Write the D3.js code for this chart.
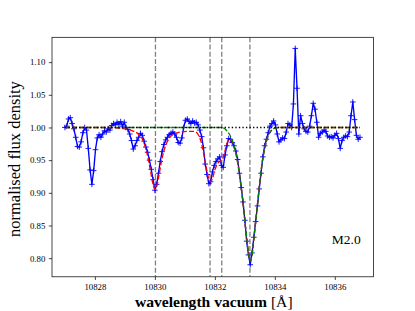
<!DOCTYPE html>
<html>
<head>
<meta charset="utf-8">
<script src="https://cdn.jsdelivr.net/npm/d3@7"></script>
<style>
  body { margin: 0; background: #fff; }
  svg { display: block; }
</style>
</head>
<body>
<svg id="chart" width="415" height="311"></svg>
<script>
// observed spectrum
const wavelength = [
  10827.00, 10827.06, 10827.12, 10827.18, 10827.24, 10827.30, 10827.36, 10827.42, 10827.48, 10827.54,
  10827.60, 10827.66, 10827.72, 10827.78, 10827.84, 10827.90, 10827.96, 10828.02, 10828.08, 10828.14,
  10828.20, 10828.26, 10828.32, 10828.38, 10828.44, 10828.50, 10828.56, 10828.62, 10828.68, 10828.74,
  10828.80, 10828.86, 10828.92, 10828.98, 10829.04, 10829.10, 10829.16, 10829.22, 10829.28, 10829.34,
  10829.40, 10829.46, 10829.52, 10829.58, 10829.64, 10829.70, 10829.76, 10829.82, 10829.88, 10829.94,
  10830.00, 10830.06, 10830.12, 10830.18, 10830.24, 10830.30, 10830.36, 10830.42, 10830.48, 10830.54,
  10830.60, 10830.66, 10830.72, 10830.78, 10830.84, 10830.90, 10830.96, 10831.02, 10831.08, 10831.14,
  10831.20, 10831.26, 10831.32, 10831.38, 10831.44, 10831.50, 10831.56, 10831.62, 10831.68, 10831.74,
  10831.80, 10831.86, 10831.92, 10831.98, 10832.04, 10832.10, 10832.16, 10832.22, 10832.28, 10832.34,
  10832.40, 10832.46, 10832.52, 10832.58, 10832.64, 10832.70, 10832.76, 10832.82, 10832.88, 10832.94,
  10833.00, 10833.06, 10833.12, 10833.18, 10833.24, 10833.30, 10833.36, 10833.42, 10833.48, 10833.54,
  10833.60, 10833.66, 10833.72, 10833.78, 10833.84, 10833.90, 10833.96, 10834.02, 10834.08, 10834.14,
  10834.20, 10834.26, 10834.32, 10834.38, 10834.44, 10834.50, 10834.56, 10834.62, 10834.68, 10834.74,
  10834.80, 10834.86, 10834.92, 10834.98, 10835.04, 10835.10, 10835.16, 10835.22, 10835.28, 10835.34,
  10835.40, 10835.46, 10835.52, 10835.58, 10835.64, 10835.70, 10835.76, 10835.82, 10835.88, 10835.94,
  10836.00, 10836.06, 10836.12, 10836.18, 10836.24, 10836.30, 10836.36, 10836.42, 10836.48, 10836.54,
  10836.60, 10836.66, 10836.72, 10836.78, 10836.84
]
const flux = [
  1.000, 1.002, 1.013, 1.015, 1.006, 0.998, 0.985, 0.971, 0.970, 0.978,
  0.992, 1.000, 0.996, 0.968, 0.935, 0.913, 0.934, 0.966, 0.984, 0.989,
  0.985, 0.990, 0.995, 0.993, 0.998, 0.996, 1.003, 1.006, 1.004, 1.008,
  1.005, 1.009, 1.002, 1.008, 1.000, 0.997, 0.990, 0.980, 0.967, 0.972,
  0.980, 0.985, 0.991, 0.988, 0.979, 0.970, 0.962, 0.950, 0.936, 0.920,
  0.904, 0.913, 0.930, 0.948, 0.963, 0.974, 0.981, 0.985, 0.989, 0.991,
  0.993, 0.990, 0.985, 0.977, 0.976, 0.984, 1.000, 1.011, 1.013, 1.009,
  1.006, 1.010, 1.007, 1.008, 1.004, 0.996, 0.986, 0.969, 0.944, 0.928,
  0.914, 0.917, 0.932, 0.942, 0.948, 0.952, 0.955, 0.942, 0.939, 0.958,
  0.972, 0.983, 0.982, 0.977, 0.972, 0.964, 0.951, 0.930, 0.908, 0.886,
  0.858, 0.826, 0.805, 0.790, 0.808, 0.832, 0.856, 0.880, 0.906, 0.930,
  0.955, 0.972, 0.982, 0.992, 1.002, 1.006, 1.010, 1.004, 0.990, 0.978,
  0.981, 0.984, 0.983, 0.993, 1.006, 1.004, 1.000, 1.036, 1.121, 1.060,
  0.990, 1.018, 1.006, 0.998, 0.994, 0.993, 1.002, 1.018, 1.037, 1.028,
  1.008, 0.985, 0.991, 0.993, 0.996, 0.994, 0.987, 0.985, 0.986, 0.984,
  0.988, 0.991, 0.983, 0.968, 0.980, 0.985, 0.987, 0.986, 0.993, 1.018,
  1.039, 1.012, 0.988, 0.982, 0.985
]

// full fitted model (red)
const modelWave = [
  10827.00, 10828.50, 10828.80, 10829.10, 10829.30, 10829.45, 10829.55, 10829.65, 10829.72, 10829.80,
  10829.88, 10829.95, 10830.00, 10830.06, 10830.14, 10830.22, 10830.30, 10830.40, 10830.50, 10830.65,
  10830.85, 10831.10, 10831.30, 10831.40, 10831.48, 10831.56, 10831.64, 10831.72, 10831.80, 10831.86,
  10831.92, 10832.00, 10832.08, 10832.16, 10832.24, 10832.32, 10832.40, 10832.48, 10832.56, 10832.64,
  10832.72, 10832.80, 10832.88, 10832.96, 10833.04, 10833.12, 10833.18, 10833.24, 10833.32, 10833.40,
  10833.48, 10833.56, 10833.64, 10833.72, 10833.80, 10833.90, 10834.00, 10834.15, 10836.84
]
const modelFlux = [
  1.000, 1.000, 0.999, 0.997, 0.994, 0.990, 0.985, 0.975, 0.964, 0.947,
  0.927, 0.911, 0.905, 0.910, 0.928, 0.948, 0.964, 0.977, 0.985, 0.990,
  0.993, 0.994, 0.994, 0.992, 0.986, 0.975, 0.957, 0.937, 0.921, 0.917,
  0.922, 0.935, 0.944, 0.948, 0.950, 0.961, 0.975, 0.982, 0.980, 0.970,
  0.956, 0.935, 0.908, 0.876, 0.840, 0.809, 0.796, 0.805, 0.838, 0.873,
  0.908, 0.940, 0.963, 0.979, 0.990, 0.996, 0.999, 1.000, 1.000
]

// helium component only (green)
const heWave = [
  10827.00, 10832.20, 10832.30, 10832.40, 10832.48, 10832.56, 10832.64, 10832.72, 10832.80, 10832.88,
  10832.96, 10833.04, 10833.12, 10833.18, 10833.24, 10833.32, 10833.40, 10833.48, 10833.56, 10833.64,
  10833.72, 10833.80, 10833.90, 10834.00, 10834.15, 10836.84
]
const heFlux = [
  1.000, 1.000, 0.999, 0.995, 0.990, 0.983, 0.972, 0.957, 0.935, 0.908,
  0.876, 0.840, 0.809, 0.796, 0.805, 0.838, 0.873, 0.908, 0.940, 0.963,
  0.979, 0.990, 0.996, 0.999, 1.000, 1.000
]

const lineCentres = [10830.02, 10831.84, 10832.23, 10833.17]
const continuum = [10827.00, 10836.84]
const xTicks = [10828, 10830, 10832, 10834, 10836]
const yTicks = [0.80, 0.85, 0.90, 0.95, 1.00, 1.05, 1.10]

const MARGINS = { top: 37.3, right: 41.5, bottom: 34.2, left: 52 }
const SERIF = "'Liberation Serif'"

const svg = d3.select('#chart')
const width = +svg.attr('width') - MARGINS.left - MARGINS.right
const height = +svg.attr('height') - MARGINS.top - MARGINS.bottom

const scaleX = d3.scaleLinear().domain([10826.57, 10837.29]).range([0, width])
const scaleY = d3.scaleLinear().domain([0.7715, 1.138]).range([height, 0])

const g = svg.append('g').attr('transform', 'translate(' + MARGINS.left + ',' + MARGINS.top + ')')

g.append('defs').append('clipPath').attr('id', 'clip')
  .append('rect').attr('width', width).attr('height', height)

const plot = g.append('g').attr('clip-path', 'url(#clip)')

// line centre markers
plot.selectAll('line.centre')
  .data(lineCentres)
  .enter()
  .append('line')
  .attr('class', 'centre')
  .attr('x1', d => scaleX(d)).attr('x2', d => scaleX(d))
  .attr('y1', 0).attr('y2', height)
  .attr('stroke', '#808080')
  .attr('stroke-width', 1.3)
  .attr('stroke-dasharray', '5,2.2')

const line = d3.line()
  .x(d => scaleX(d[0]))
  .y(d => scaleY(d[1]))

// spectrum
const spec = wavelength.map((w, i) => [w, flux[i]])
plot.append('path')
  .datum(spec)
  .attr('d', line)
  .attr('fill', 'none')
  .attr('stroke', '#0000ff')
  .attr('stroke-width', 1.35)
  .attr('stroke-linejoin', 'round')

plot.selectAll('path.mark')
  .data(spec)
  .enter()
  .append('path')
  .attr('class', 'mark')
  .attr('transform', d => 'translate(' + scaleX(d[0]) + ',' + scaleY(d[1]) + ')')
  .attr('d', 'M-2.8,0H2.8M0,-2.8V2.8')
  .attr('stroke', '#0000ff')
  .attr('stroke-width', 0.9)

const smooth = d3.line()
  .x(d => scaleX(d[0]))
  .y(d => scaleY(d[1]))
  .curve(d3.curveMonotoneX)

plot.append('path')
  .datum(modelWave.map((w, i) => [w, modelFlux[i]]))
  .attr('d', smooth)
  .attr('fill', 'none')
  .attr('stroke', '#ff0000')
  .attr('stroke-width', 1.35)
  .attr('stroke-dasharray', '5,2.2')

plot.append('path')
  .datum(heWave.map((w, i) => [w, heFlux[i]]))
  .attr('d', smooth)
  .attr('fill', 'none')
  .attr('stroke', '#008000')
  .attr('stroke-width', 1.35)
  .attr('stroke-dasharray', '5,2.2')

plot.append('path')
  .datum(continuum.map(w => [w, 1.0]))
  .attr('d', line)
  .attr('fill', 'none')
  .attr('stroke', '#000')
  .attr('stroke-width', 1.35)
  .attr('stroke-dasharray', '1.35,2.2')

// axes
const xAxis = g.append('g')
  .attr('transform', 'translate(0,' + height + ')')
  .call(d3.axisBottom(scaleX).tickValues(xTicks).tickFormat(d3.format('d')).tickSize(3.2).tickPadding(3.5))
const yAxis = g.append('g')
  .call(d3.axisLeft(scaleY).tickValues(yTicks).tickFormat(d3.format('.2f')).tickSize(3.2).tickPadding(3.5))

;[xAxis, yAxis].forEach(a => {
  a.attr('font-family', null)
  a.select('.domain').remove()
  a.selectAll('line').attr('stroke', '#000').attr('stroke-width', 0.72)
  a.selectAll('text').style('font-family', SERIF).attr('font-size', 8.8).attr('fill', '#000')
})

g.append('rect')
  .attr('width', width).attr('height', height)
  .attr('fill', 'none').attr('stroke', '#000').attr('stroke-width', 0.72)

g.append('text')
  .attr('x', scaleX(10835.9)).attr('y', scaleY(0.822))
  .style('font-family', SERIF)
  .style('font-size', '13.5px')
  .text('M2.0')

svg.append('text')
  .attr('x', MARGINS.left + width / 2 + 1).attr('y', 307)
  .attr('text-anchor', 'middle')
  .style('font-family', SERIF)
  .style('font-size', '15.6px')
  .call(t => {
    t.append('tspan').style('font-weight', 'bold').text('wavelength vacuum ')
    t.append('tspan').text('[Å]')
  })

svg.append('text')
  .attr('transform', 'translate(20,' + (MARGINS.top + height / 2 + 2) + ') rotate(-90)')
  .attr('text-anchor', 'middle')
  .style('font-family', SERIF)
  .style('font-size', '16.5px')
  .text('normalised flux density')
</script>
</body>
</html>
